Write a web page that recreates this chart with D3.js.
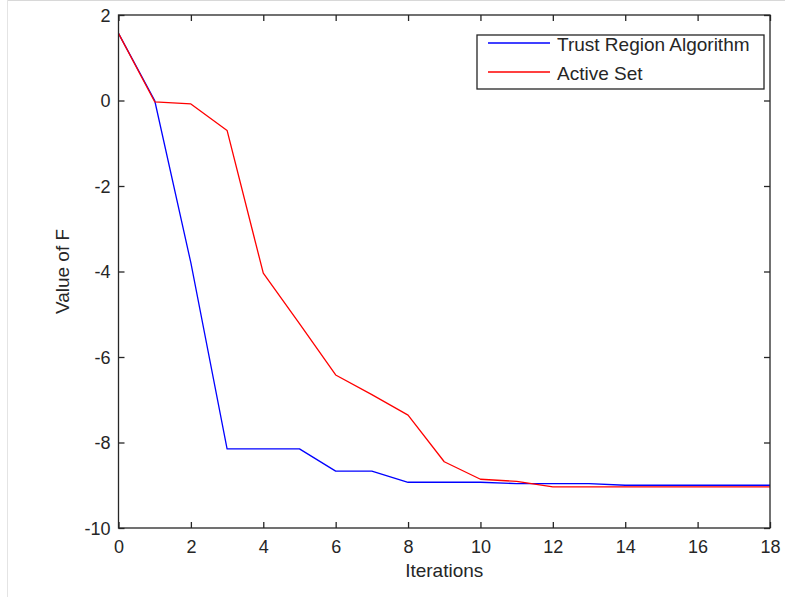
<!DOCTYPE html>
<html>
<head>
<meta charset="utf-8">
<script src="https://cdn.jsdelivr.net/npm/d3@7/dist/d3.min.js"></script>
<style>
  html, body { margin: 0; padding: 0; background: #fff; }
  text { font-family: "Liberation Sans", Arial, sans-serif; fill: #262626; }
</style>
</head>
<body>
<svg id="chart" width="785" height="597"></svg>
<script>
const iterations = d3.range(0, 19);
const trustRegion = [1.57, 0.0, -3.8, -8.15, -8.15, -8.15, -8.67, -8.67, -8.93, -8.93, -8.93, -8.96, -8.96, -8.96, -9.0, -9.0, -9.0, -9.0, -9.0];
const activeSet   = [1.57, -0.03, -0.08, -0.7, -4.04, -5.22, -6.42, -6.88, -7.36, -8.45, -8.86, -8.91, -9.04, -9.04, -9.04, -9.04, -9.04, -9.04, -9.04];
const xTicks = [0, 2, 4, 6, 8, 10, 12, 14, 16, 18];
const yTicks = [-10, -8, -6, -4, -2, 0, 2];
const seriesNames = ["Trust Region Algorithm", "Active Set"];
const seriesColors = ["#0000ff", "#ff0000"];

(function () {
const svg = d3.select("#chart");
const L = 118.5, R = 770, T = 15, B = 528;
const x = d3.scaleLinear().domain([0, 18]).range([L, R]);
const y = d3.scaleLinear().domain([-10, 2]).range([B, T]);
const fmt = d => String(d);

// faint screenshot border
svg.append("line").attr("x1", 7).attr("x2", 785).attr("y1", 0.5).attr("y2", 0.5).attr("stroke", "#d8d8d8");
svg.append("line").attr("x1", 7.5).attr("x2", 7.5).attr("y1", 0).attr("y2", 597).attr("stroke", "#e4e4e4");

// data lines
const line = d3.line().x((d, i) => x(iterations[i])).y(d => y(d));
[trustRegion, activeSet].forEach((s, k) => {
  svg.append("path").datum(s).attr("d", line)
    .attr("fill", "none").attr("stroke", seriesColors[k]).attr("stroke-width", 1.3)
    .attr("stroke-linejoin", "round");
});

// axes (box with inward ticks)
const axCol = "#262626";
const tl = 6;
const gBottom = svg.append("g").attr("transform", `translate(0,${B})`)
  .call(d3.axisBottom(x).tickValues(xTicks).tickSize(-tl).tickPadding(10).tickFormat(fmt));
const gTop = svg.append("g").attr("transform", `translate(0,${T})`)
  .call(d3.axisTop(x).tickValues(xTicks).tickSize(-tl).tickFormat(""));
const gLeft = svg.append("g").attr("transform", `translate(${L},0)`)
  .call(d3.axisLeft(y).tickValues(yTicks).tickSize(-tl).tickPadding(8).tickFormat(fmt));
const gRight = svg.append("g").attr("transform", `translate(${R},0)`)
  .call(d3.axisRight(y).tickValues(yTicks).tickSize(-tl).tickFormat(""));
[gBottom, gTop, gLeft, gRight].forEach(g => {
  g.selectAll(".tick line").attr("stroke", axCol).attr("stroke-width", 1.3);
  g.selectAll(".tick text").style("font-family", '"Liberation Sans", Arial, sans-serif')
    .style("font-size", "18px").attr("fill", axCol);
});
svg.selectAll(".domain").remove();
svg.append("rect").attr("x", L).attr("y", T).attr("width", R - L).attr("height", B - T)
  .attr("fill", "none").attr("stroke", axCol).attr("stroke-width", 1.3);
gLeft.selectAll(".tick text").attr("x", -8).attr("dy", "0.34em");
gBottom.selectAll(".tick text").attr("y", 12).attr("dy", "0.71em");

// axis labels
svg.append("text").attr("x", (L + R) / 2).attr("y", 577).attr("text-anchor", "middle")
  .style("font-size", "19px").text("Iterations");
svg.append("text").attr("transform", `translate(69,${(T + B) / 2}) rotate(-90)`)
  .attr("text-anchor", "middle").style("font-size", "19px").text("Value of F");

// legend
const lg = svg.append("g");
lg.append("rect").attr("x", 477).attr("y", 35).attr("width", 287).attr("height", 54)
  .attr("fill", "#fff").attr("stroke", axCol).attr("stroke-width", 1.3);
seriesNames.forEach((n, i) => {
  const yy = 43 + i * 29;
  lg.append("line").attr("x1", 488).attr("x2", 550).attr("y1", yy).attr("y2", yy)
    .attr("stroke", seriesColors[i]).attr("stroke-width", 1.3);
  lg.append("text").attr("x", 557).attr("y", yy + 7.5).style("font-size", "19px").text(n);
});
})();
</script>
</body>
</html>
